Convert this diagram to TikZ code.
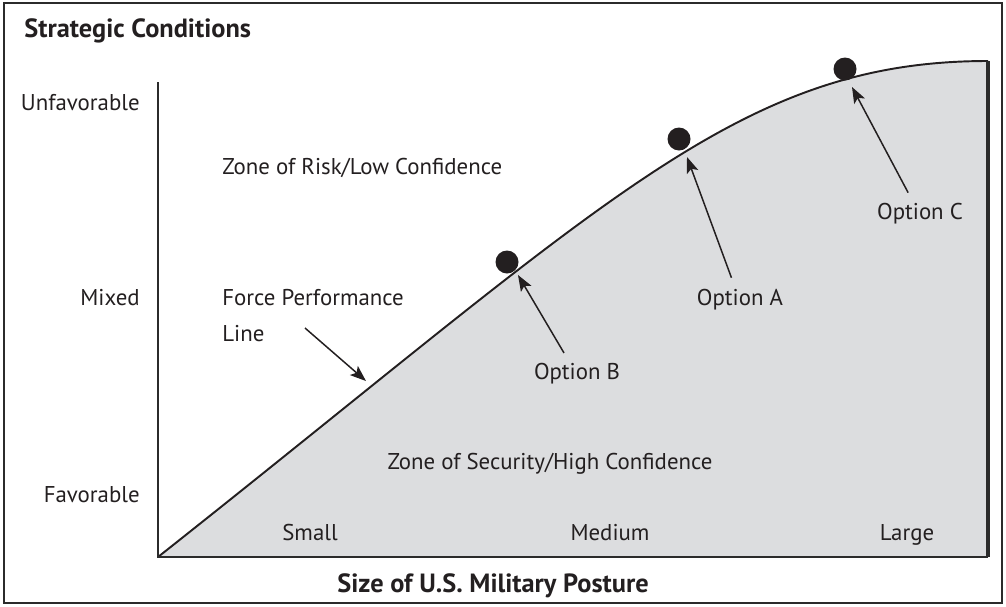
\documentclass[tikz,border=0pt]{standalone}
\usepackage{fontspec}
\setmainfont{PT Sans}
\usetikzlibrary{arrows.meta,positioning}
\definecolor{zonegrey}{HTML}{DCDDDF}
\definecolor{axisgrey}{HTML}{2B2B2B}
\definecolor{inkgrey}{HTML}{231F20}

\tikzset{
  lbl/.style={font=\fontsize{13}{15}\selectfont, text=inkgrey, inner sep=0pt,
    text height=1.45ex, text depth=0.35ex, yshift=-0.06cm},
  head/.style={font=\fontsize{15}{18}\selectfont\bfseries, text=inkgrey, inner sep=0pt,
    text height=1.45ex, text depth=0.35ex, yshift=-0.1cm},
  dot/.style={circle, fill=inkgrey, inner sep=0pt, minimum size=0.46cm},
  ptr/.style={-{Stealth[length=0.32cm,width=0.24cm,inset=0.07cm]}, line width=0.85pt, inkgrey},
}

\begin{document}
\begin{tikzpicture}[x=0.02cm,y=-0.02cm]
\useasboundingbox (0,0) rectangle (1006,606);
% frame
\draw[axisgrey,line width=1.1pt] (4,3) rectangle (1002,603);

% axes and performance curve
\coordinate (orig) at (158,557);
\coordinate (ytop) at (158,82);
\coordinate (xend) at (988,557);
\coordinate (cend) at (988,61);
\fill[zonegrey] (orig) .. controls (608,201) and (738,61) .. (cend) -- (xend) -- cycle;
\draw[line width=1.1pt,inkgrey] (orig) .. controls (608,201) and (738,61) .. (cend);
\draw[axisgrey,line width=1.3pt] (ytop) -- (orig) -- (xend);
\draw[axisgrey,line width=1.9pt] (cend) -- (xend);

% titles
\node[head,anchor=west] (ytitle) at (24,28) {Strategic Conditions};
\node[head] (xtitle) at (493,583) {Size of U.S. Military Posture};

% vertical scale
\node[lbl,anchor=east] (unfav) at (140,103) {Unfavorable};
\node[lbl,anchor=east] (mixed) at (140,298) {Mixed};
\node[lbl,anchor=east] (fav) at (140,495) {Favorable};

% horizontal scale
\node[lbl] (small) at (310,533) {Small};
\node[lbl] (medium) at (610,533) {Medium};
\node[lbl] (large) at (907,533) {Large};

% zones
\node[lbl,anchor=west] (risk) at (222,167) {Zone of Risk/Low Confidence};
\node[lbl] (secure) at (550,462) {Zone of Security/High Confidence};

% force performance line
\node[lbl,anchor=west] (force) at (222,298) {Force Performance};
\node[lbl,below=0.66cm of force.west,anchor=west] (forceb) {Line};
\coordinate (fstart) at (305,328);
\coordinate (ftip) at (366,381);
\draw[ptr] (fstart) -- (ftip);

% options
\node[dot] (dotB) at (507,262) {};
\node[dot] (dotA) at (679,139) {};
\node[dot] (dotC) at (845,69) {};
\coordinate (tipB) at (518,275);
\coordinate (tipA) at (687,157);
\coordinate (tipC) at (852,87);
\node[lbl] (optB) at (577,372) {Option B};
\node[lbl] (optA) at (740,298) {Option A};
\node[lbl] (optC) at (920,212) {Option C};
\draw[ptr,shorten <=0.32cm] (optB) -- (tipB);
\draw[ptr,shorten <=0.32cm] (optA) -- (tipA);
\draw[ptr,shorten <=0.32cm] (optC) -- (tipC);
\end{tikzpicture}
\end{document}
